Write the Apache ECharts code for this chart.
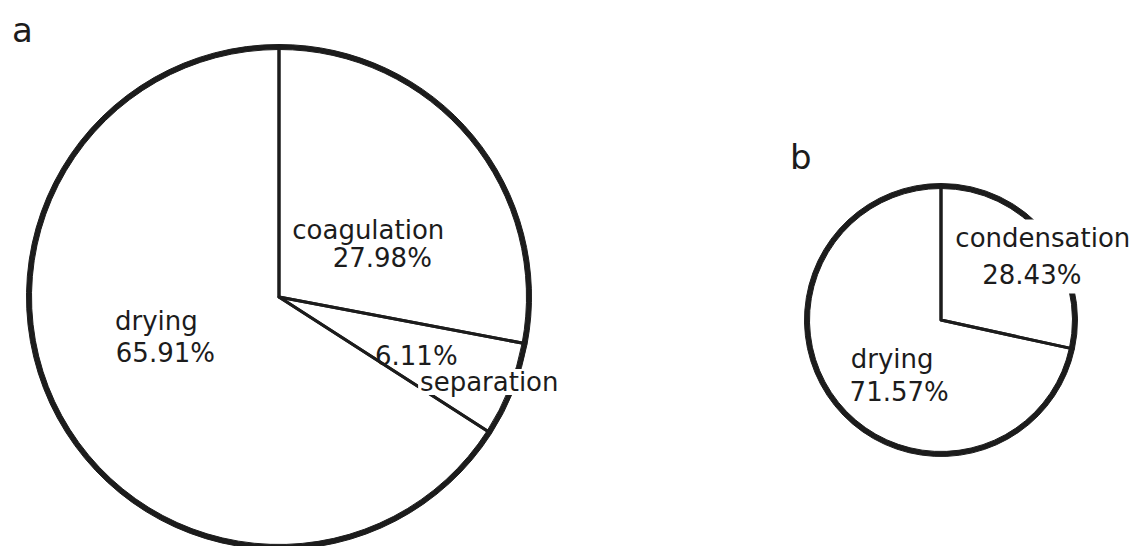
<!DOCTYPE html>
<html>
<head>
<meta charset="utf-8">
<title>Energy share by process step</title>
<script src="https://cdn.jsdelivr.net/npm/echarts@6/dist/echarts.min.js"></script>
<style>
  html, body { margin: 0; padding: 0; background: #ffffff; }
  #chart { width: 1132px; height: 546px; }
</style>
</head>
<body>
<div id="chart"></div>
<script>
// Process steps and their percentage shares
const pieANames = ['coagulation', 'separation', 'drying'];
const pieAValues = [27.98, 6.11, 65.91];
const pieBNames = ['condensation', 'drying'];
const pieBValues = [28.43, 71.57];
const panelLetters = ['a', 'b'];

const INK = '#1c1c1c';
const FONT = 'DejaVu Sans';
const FONT_SIZE = 26;

// Per-label placement: shift from the default inside position, line height,
// horizontal offset of the value line against the name line, and
// which parts of the label get a white backing.
const labelStyleA = [
  { dx: 4.7, dy: 28.7, lh: 28, shift: 14, bg: 'none' },
  { dx: 91.4, dy: 23.7, lh: 28, shift: 0, bg: 'none', valueFirst: true, valuePadRight: 146 },
  { dx: -1.3, dy: -20.9, lh: 32, shift: 9, bg: 'none' }
];
const labelStyleB = [
  { dx: 47.3, dy: -19.5, lh: 37, shift: -11, bg: 'block' },
  { dx: 12.7, dy: 11.5, lh: 33, shift: 7, bg: 'none' }
];

function fmtPct(v) { return v.toFixed(2) + '%'; }

function buildItem(name, value, st) {
  const base = { fontFamily: FONT, fontSize: FONT_SIZE, color: INK, lineHeight: st.lh };
  const nameStyle = Object.assign({}, base);
  const valStyle = Object.assign({}, base);
  let text;
  if (st.valueFirst) {
    // value line sits left of the name line; name line gets a white backing
    valStyle.padding = [0, st.valuePadRight, 0, 0];
    nameStyle.backgroundColor = '#ffffff';
    nameStyle.lineHeight = 24;
    nameStyle.padding = [0, 2, 0, 2];
    text = '{v|' + fmtPct(value) + '}\n{n|' + name + '}';
  } else {
    if (st.shift > 0) nameStyle.padding = [0, 2 * st.shift, 0, 0];
    else if (st.shift < 0) valStyle.padding = [0, -2 * st.shift, 0, 0];
    text = '{n|' + name + '}\n{v|' + fmtPct(value) + '}';
  }
  const label = {
    show: true,
    position: 'inside',
    formatter: text,
    lineHeight: st.lh,
    rich: { n: nameStyle, v: valStyle }
  };
  if (st.bg === 'block') {
    label.backgroundColor = '#ffffff';
    label.padding = [0, 0, 0, 0];
  }
  return { name: name, value: value, label: label };
}

function mainPie(center, radius, names, values, styles) {
  return {
    type: 'pie',
    z: 2,
    center: center,
    radius: radius,
    startAngle: 90,
    clockwise: true,
    silent: true,
    animation: false,
    avoidLabelOverlap: false,
    emphasis: { disabled: true },
    labelLine: { show: false },
    itemStyle: { color: 'transparent', borderColor: INK, borderWidth: 3 },
    labelLayout: function (p) {
      const st = styles[p.dataIndex];
      return { dx: st.dx, dy: st.dy };
    },
    data: names.map(function (n, i) { return buildItem(n, values[i], styles[i]); })
  };
}

// Heavy outline drawn as a thin ring under the labels
function ringPie(center, inner, outer, names, values) {
  return {
    type: 'pie',
    z: 1,
    center: center,
    radius: [inner, outer],
    startAngle: 90,
    clockwise: true,
    silent: true,
    animation: false,
    emphasis: { disabled: true },
    label: { show: false },
    labelLine: { show: false },
    itemStyle: { color: INK, borderColor: INK, borderWidth: 1 },
    data: names.map(function (n, i) { return { name: n, value: values[i] }; })
  };
}

const chart = echarts.init(document.getElementById('chart'), null, { renderer: 'svg' });

chart.setOption({
  backgroundColor: '#ffffff',
  animation: false,
  tooltip: { show: false },
  graphic: [
    { type: 'text', left: 12, top: 13, style: { text: panelLetters[0], font: '34px "DejaVu Sans"', fill: INK } },
    { type: 'text', left: 790, top: 140, style: { text: panelLetters[1], font: '34px "DejaVu Sans"', fill: INK } }
  ],
  series: [
    ringPie([279, 297], 247.5, 252.5, pieANames, pieAValues),
    mainPie([279, 297], 250, pieANames, pieAValues, labelStyleA),
    ringPie([941, 320], 131.5, 136.5, pieBNames, pieBValues),
    mainPie([941, 320], 134, pieBNames, pieBValues, labelStyleB)
  ]
});
</script>
</body>
</html>
